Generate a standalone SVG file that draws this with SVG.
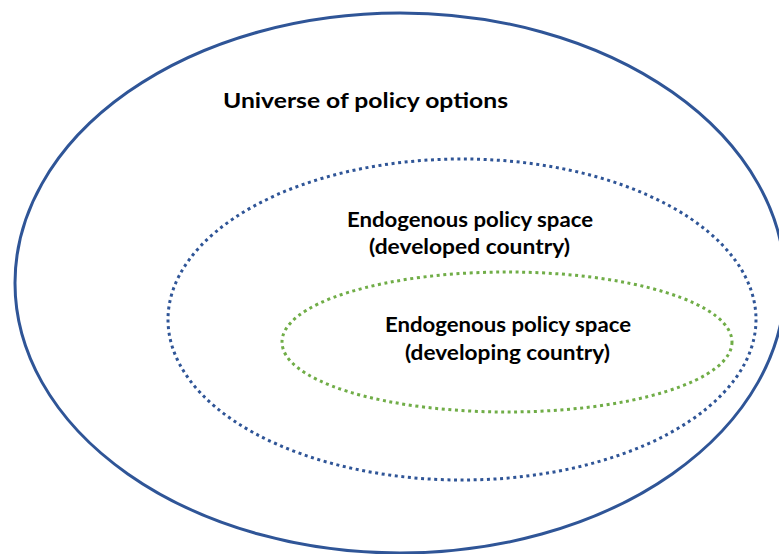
<svg xmlns="http://www.w3.org/2000/svg" width="779" height="554" viewBox="0 0 779 554">
  <style>
    .lbl { font-family: Lato, "Open Sans", "Liberation Sans", sans-serif; font-weight: bold; font-size: 21px; fill: #000000; text-anchor: middle; }
    .outer { fill: none; stroke: #2F5597; stroke-width: 3; }
    .dev { fill: none; stroke: #2F5597; stroke-width: 3; stroke-dasharray: 3 3.6; }
    .dvg { fill: none; stroke: #70AD47; stroke-width: 3; stroke-dasharray: 3 3.6; }
  </style>
  <rect width="779" height="554" fill="#ffffff"/>
  <g id="universe">
    <ellipse class="outer" cx="400" cy="283" rx="385" ry="270"/>
    <text class="lbl" x="365.5" y="108" textLength="285" lengthAdjust="spacingAndGlyphs">Universe of policy options</text>
  </g>
  <g id="developed">
    <ellipse class="dev" cx="462" cy="319.5" rx="294" ry="160.5"/>
    <text class="lbl" x="470" y="227" textLength="246" lengthAdjust="spacingAndGlyphs">Endogenous policy space</text>
    <text class="lbl" x="469.5" y="254" textLength="201" lengthAdjust="spacingAndGlyphs">(developed country)</text>
  </g>
  <g id="developing">
    <ellipse class="dvg" cx="507" cy="342" rx="225" ry="70"/>
    <text class="lbl" x="508" y="332" textLength="246" lengthAdjust="spacingAndGlyphs">Endogenous policy space</text>
    <text class="lbl" x="507.5" y="360" textLength="205" lengthAdjust="spacingAndGlyphs">(developing country)</text>
  </g>
  <g id="connectors"/>
</svg>
